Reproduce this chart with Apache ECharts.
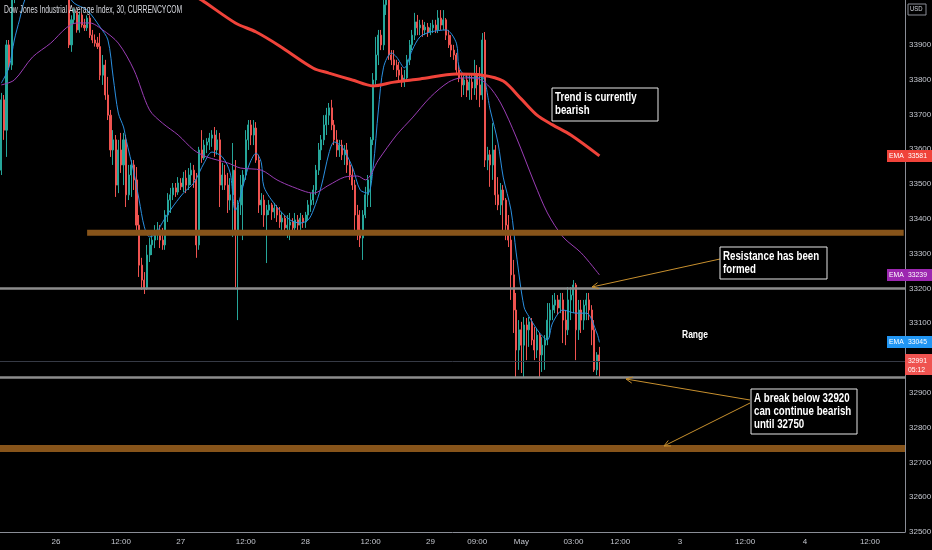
<!DOCTYPE html>
<html>
<head>
<meta charset="utf-8">
<script src="https://cdn.jsdelivr.net/npm/echarts@6/dist/echarts.min.js"></script>
<style>
  html, body { margin: 0; padding: 0; background: #000; }
  #chart { width: 932px; height: 550px; }
</style>
</head>
<body>
<div id="chart"></div>
<script>
// 30 min slots across the visible time range (incl. empty future space)
const SLOT_COUNT = 348;

const xLabelIdx = [21, 46, 69, 94, 117, 142, 165, 183, 200, 220, 238, 261, 286, 309, 334];
const xLabelText = ['26', '12:00', '27', '12:00', '28', '12:00', '29', '09:00', 'May', '03:00', '12:00', '3', '12:00', '4', '12:00'];

// [open, close, low, high]
const candles = [
  [33540,33742,33526,33762],[33742,33655,33627,33756],[33655,33900,33578,33914],[33900,33842,33828,33914],
  [33842,34040,33828,34060],[34040,34090,34020,34110],[34090,34120,34080,34135],[34120,34100,34090,34130],
  [34100,34140,34095,34150],[34140,34130,34120,34155],[34130,34160,34125,34170],[34160,34150,34140,34175],
  [34150,34170,34145,34185],[34170,34140,34130,34180],[34140,34150,34130,34160],[34150,34130,34120,34160],
  [34130,34145,34120,34155],[34145,34120,34110,34150],[34120,34130,34110,34140],[34130,34110,34100,34140],
  [34110,34120,34100,34130],[34120,34090,34080,34125],[34090,34100,34080,34110],[34100,34070,34060,34105],
  [34070,34080,34060,34090],[34080,34050,34040,34085],[34050,33900,33891,34060],[33900,33972,33880,33985],
  [33972,33992,33960,34005],[33992,33943,33935,33998],[33943,33986,33935,33995],[33986,33957,33950,33992],
  [33957,33949,33940,33975],[33949,33977,33940,33985],[33977,33928,33920,33985],[33928,33914,33905,33943],
  [33914,33905,33895,33930],[33905,33895,33888,33923],[33895,33813,33799,33934],[33813,33842,33785,33871],
  [33842,33756,33742,33857],[33756,33698,33684,33808],[33698,33598,33578,33713],[33598,33627,33555,33655],
  [33627,33497,33463,33641],[33497,33598,33474,33627],[33598,33555,33532,33647],[33555,33627,33497,33647],
  [33627,33469,33434,33641],[33469,33526,33454,33555],[33526,33555,33463,33569],[33555,33512,33483,33569],
  [33512,33382,33359,33549],[33382,33267,33233,33411],[33267,33224,33196,33288],[33224,33201,33184,33247],
  [33201,33296,33196,33325],[33296,33325,33276,33345],[33325,33339,33296,33359],[33339,33362,33316,33382],
  [33362,33368,33339,33391],[33368,33339,33316,33382],[33339,33325,33311,33374],[33325,33411,33311,33425],
  [33411,33454,33391,33474],[33454,33469,33417,33489],[33469,33489,33454,33503],[33489,33477,33463,33503],
  [33477,33503,33469,33520],[33503,33492,33483,33517],[33492,33517,33477,33535],[33517,33497,33474,33540],
  [33497,33526,33483,33546],[33526,33540,33497,33561],[33540,33512,33489,33555],[33512,33325,33288,33532],
  [33325,33598,33311,33607],[33598,33575,33561,33655],[33575,33612,33569,33627],[33612,33621,33589,33632],
  [33621,33632,33598,33647],[33632,33641,33607,33655],[33641,33598,33578,33664],[33598,33627,33584,33655],
  [33627,33497,33434,33647],[33497,33526,33483,33561],[33526,33497,33483,33555],[33497,33454,33417,33532],
  [33454,33469,33425,33517],[33469,33540,33348,33618],[33540,33368,33204,33569],[33368,33440,33109,33454],
  [33440,33497,33411,33526],[33497,33526,33339,33540],[33526,33627,33512,33655],[33627,33670,33598,33684],
  [33670,33641,33612,33684],[33641,33661,33612,33684],[33661,33569,33561,33678],[33569,33440,33417,33584],
  [33440,33454,33411,33474],[33454,33411,33377,33469],[33411,33425,33273,33440],[33425,33440,33411,33454],
  [33440,33420,33397,33446],[33420,33431,33402,33446],[33431,33411,33391,33440],[33411,33391,33374,33434],
  [33391,33402,33368,33420],[33402,33374,33359,33411],[33374,33382,33345,33411],[33382,33391,33339,33417],
  [33391,33374,33354,33402],[33374,33397,33362,33417],[33397,33382,33368,33411],[33382,33402,33368,33417],
  [33402,33391,33374,33411],[33391,33411,33374,33420],[33411,33440,33397,33454],[33440,33454,33420,33474],
  [33454,33483,33440,33497],[33483,33540,33469,33555],[33540,33598,33526,33618],[33598,33627,33569,33641],
  [33627,33670,33612,33698],[33670,33698,33641,33719],[33698,33719,33670,33733],[33719,33670,33655,33742],
  [33670,33627,33612,33684],[33627,33598,33578,33655],[33598,33612,33578,33627],[33612,33584,33569,33627],
  [33584,33598,33555,33612],[33598,33555,33532,33618],[33555,33526,33512,33569],[33526,33497,33483,33549],
  [33497,33411,33359,33512],[33411,33368,33339,33440],[33368,33345,33319,33425],[33345,33411,33282,33425],
  [33411,33469,33402,33492],[33469,33512,33434,33526],[33512,33627,33434,33635],[33627,33799,33612,33819],
  [33799,33871,33785,33923],[33871,33928,33842,33943],[33928,33900,33885,33943],[33900,34015,33885,34043],
  [34015,34029,33986,34058],[34029,33871,33857,34043],[33871,33857,33842,33885],[33857,33842,33828,33885],
  [33842,33828,33808,33857],[33828,33813,33799,33851],[33813,33793,33779,33836],[33793,33805,33779,33828],
  [33805,33857,33799,33871],[33857,33900,33842,33914],[33900,33928,33885,33943],[33928,33966,33914,33992],
  [33966,33949,33928,33986],[33949,33957,33928,33972],[33957,33943,33923,33972],[33943,33951,33928,33966],
  [33951,33937,33923,33963],[33937,33949,33928,33963],[33949,33957,33934,33972],[33957,33943,33934,33972],
  [33943,33977,33934,34000],[33977,33957,33943,34000],[33957,33972,33943,34000],[33972,33928,33914,33977],
  [33928,33900,33891,33943],[33900,33885,33865,33928],[33885,33871,33857,33900],[33871,33828,33813,33877],
  [33828,33805,33793,33842],[33805,33785,33750,33819],[33785,33799,33756,33813],[33799,33770,33750,33819],
  [33770,33793,33742,33813],[33793,33776,33742,33813],[33776,33813,33756,33857],[33813,33785,33742,33842],
  [33785,33756,33721,33836],[33756,33914,33742,33934],[33914,33569,33549,33937],[33569,33584,33540,33607],
  [33584,33555,33492,33598],[33555,33598,33512,33675],[33598,33469,33440,33612],[33469,33440,33425,33520],
  [33440,33483,33411,33503],[33483,33454,33359,33497],[33454,33382,33339,33460],[33382,33339,33319,33411],
  [33339,33239,33167,33359],[33239,33138,33072,33282],[33138,33023,32945,33187],[33023,33081,32966,33109],
  [33081,33037,32957,33104],[33037,33095,32945,33118],[33095,33081,32994,33115],[33081,33104,33032,33118],
  [33104,33052,33037,33115],[33052,33023,32994,33089],[33023,33066,33000,33086],[33066,33009,32945,33072],
  [33009,33037,32960,33060],[33037,33052,32966,33066],[33052,33109,33037,33158],[33109,33138,33060,33158],
  [33138,33152,33109,33181],[33152,33167,33129,33187],[33167,33144,33124,33181],[33144,33167,33129,33187],
  [33167,33109,33043,33187],[33109,33081,33037,33138],[33081,33167,33066,33204],[33167,33181,33109,33204],
  [33181,33210,33129,33224],[33210,33081,32994,33216],[33081,33138,33052,33167],[33138,33109,33072,33167],
  [33109,33152,33081,33167],[33152,33167,33109,33187],[33167,33138,33109,33187],[33138,33081,33037,33152],
  [33081,32966,32960,33109],[32966,33009,32951,33017],[33009,32991,32945,33032]
];

// moving averages: [slot, value]
const ema200 = [
  [74,34040],[77,34029],[90,33963],[98,33937],[107,33897],[120,33833],[126,33819],[135,33799],
  [143,33782],[151,33793],[161,33802],[175,33816],[185,33813],[193,33796],[200,33744],[206,33698],
  [212,33670],[219,33641],[230,33581]
];
const ema50 = [
  [0,33785],[5,33799],[12,33865],[19,33905],[25,33949],[29,33963],[34,33963],[39,33943],[45,33905],
  [51,33828],[57,33713],[62,33675],[68,33641],[74,33598],[79,33578],[87,33561],[92,33546],[100,33540],
  [106,33512],[112,33492],[120,33474],[126,33497],[132,33520],[137,33523],[140,33512],[145,33569],
  [152,33641],[158,33690],[165,33750],[172,33793],[177,33805],[182,33805],[187,33785],[192,33733],
  [198,33635],[205,33503],[210,33417],[216,33348],[223,33302],[230,33239]
];
const ema20 = [
  [0,33790],[3,33836],[5,33914],[7,33972],[9,34029],[12,34070],[18,34100],[24,34060],[28,34020],
  [33,34000],[38,33951],[41,33914],[43,33808],[45,33704],[47,33664],[48,33627],[51,33532],[53,33454],
  [55,33377],[57,33348],[60,33359],[61,33377],[65,33425],[70,33474],[74,33503],[78,33561],[81,33592],
  [85,33578],[88,33532],[90,33425],[95,33549],[98,33589],[100,33561],[101,33492],[106,33434],[111,33397],
  [115,33388],[118,33397],[120,33425],[123,33492],[126,33589],[128,33621],[131,33607],[135,33549],
  [138,33483],[141,33474],[143,33549],[145,33713],[147,33836],[150,33877],[152,33865],[155,33834],
  [158,33885],[161,33923],[165,33937],[171,33943],[175,33905],[176,33836],[179,33808],[183,33805],
  [185,33808],[188,33713],[191,33618],[193,33520],[196,33425],[198,33302],[201,33147],[203,33118],
  [207,33072],[210,33052],[212,33101],[216,33138],[221,33129],[225,33129],[229,33072],[230,33045]
];

// drawn levels
const upperZone = 33360;
const upperZoneStart = 33;
const lowerZone = 32740;
const resistanceLine = 33200;
const supportLine = 32945;
const countdown = '05:12';

const FONT = '"Liberation Sans", Arial, sans-serif';
const UP = '#26a69a';
const DOWN = '#ef5350';
const ZONE = '#87541a';
const ARROW = '#c8902e';

const labelByIdx = {};
xLabelIdx.forEach((idx, k) => { labelByIdx[idx] = xLabelText[k]; });
const slots = Array.from({ length: SLOT_COUNT }, (_, i) => String(i));

const chart = echarts.init(document.getElementById('chart'));

chart.setOption({
  backgroundColor: '#000',
  animation: false,
  grid: { left: 0, right: 27, top: 0, bottom: 18, containLabel: false, outerBoundsMode: 'none' },
  xAxis: {
    type: 'category',
    data: slots,
    boundaryGap: true,
    axisLine: { show: true, lineStyle: { color: '#8a8d96', width: 1 } },
    axisTick: { show: false },
    splitLine: { show: false },
    axisLabel: {
      color: '#c3c6ce',
      fontSize: 8,
      fontFamily: FONT,
      margin: 6,
      interval: (idx) => labelByIdx[idx] !== undefined,
      formatter: (v, idx) => labelByIdx[idx] || ''
    }
  },
  yAxis: {
    type: 'value',
    position: 'right',
    min: 32500,
    max: 34029,
    interval: 100,
    axisLine: { show: true, lineStyle: { color: '#8a8d96', width: 1 } },
    axisTick: { show: false },
    splitLine: { show: false },
    axisLabel: {
      color: '#c3c6ce',
      fontSize: 8,
      fontFamily: FONT,
      margin: 4,
      showMaxLabel: false,
      formatter: (v) => (v >= 34000 ? '' : String(v))
    }
  },
  series: [
    {
      type: 'candlestick',
      data: candles,
      barWidth: '60%',
      clip: true,
      itemStyle: {
        color: UP, color0: DOWN,
        borderColor: UP, borderColor0: DOWN,
        borderWidth: 1
      },
      z: 2
    },
    {
      type: 'line', data: ema20, showSymbol: false, smooth: 0.3, clip: true,
      lineStyle: { color: '#2a8fe0', width: 1 }, z: 3
    },
    {
      type: 'line', data: ema50, showSymbol: false, smooth: 0.3, clip: true,
      lineStyle: { color: '#9b3db5', width: 1 }, z: 3
    },
    {
      type: 'line', data: ema200, showSymbol: false, smooth: 0.3, clip: true,
      lineStyle: { color: '#f0433a', width: 3 }, z: 3
    },
    {
      type: 'line',
      data: [[upperZoneStart, upperZone], [SLOT_COUNT - 1, upperZone]],
      showSymbol: false,
      lineStyle: { color: ZONE, width: 6 },
      z: 4,
      markLine: {
        silent: true,
        symbol: 'none',
        label: { show: false },
        data: [
          { yAxis: lowerZone, lineStyle: { color: ZONE, width: 7, type: 'solid' } },
          { yAxis: resistanceLine, lineStyle: { color: '#8c8c8c', width: 2.5, type: 'solid' } },
          { yAxis: supportLine, lineStyle: { color: '#8c8c8c', width: 2.5, type: 'solid' } },
          { yAxis: candles[candles.length - 1][1], lineStyle: { color: '#363a45', width: 1, type: 'solid' } }
        ]
      }
    }
  ]
});

// annotations and price tags
const yPix = (v) => chart.convertToPixel({ yAxisIndex: 0 }, v);

function arrow(x1, y1, x2, y2) {
  const a = Math.atan2(y1 - y2, x1 - x2);
  const len = 7, spread = 0.45;
  return [
    { type: 'line', shape: { x1, y1, x2, y2 }, style: { stroke: ARROW, lineWidth: 1 }, z: 20 },
    {
      type: 'polyline',
      shape: { points: [
        [x2 + len * Math.cos(a + spread), y2 + len * Math.sin(a + spread)],
        [x2, y2],
        [x2 + len * Math.cos(a - spread), y2 + len * Math.sin(a - spread)]
      ] },
      style: { stroke: ARROW, lineWidth: 1, fill: null }, z: 20
    }
  ];
}

function noteBox(x, y, w, h, text) {
  return [
    { type: 'rect', shape: { x, y, width: w, height: h }, style: { fill: '#000', stroke: '#e6e6e6', lineWidth: 1 }, z: 21 },
    {
      type: 'text', x: x + 3, y: y + 3, scaleX: 0.72, z: 22,
      style: { text, fill: '#fff', font: 'bold 13.5px ' + FONT, lineHeight: 13 }
    }
  ];
}

function tag(label, value, color) {
  const y = Math.round(yPix(value)) - 6;
  return [
    { type: 'rect', shape: { x: 887, y, width: 18, height: 12 }, style: { fill: color }, z: 30 },
    { type: 'text', x: 889, y: y + 2, scaleX: 0.85, z: 31, style: { text: label, fill: '#fff', font: '8px ' + FONT } },
    { type: 'rect', shape: { x: 905, y, width: 27, height: 12 }, style: { fill: color }, z: 30 },
    { type: 'text', x: 908, y: y + 2, scaleX: 0.85, z: 31, style: { text: String(value), fill: '#fff', font: '8px ' + FONT } }
  ];
}

const last = candles[candles.length - 1][1];
const lastY = Math.round(yPix(last)) - 7;

const graphic = [
  { type: 'text', x: 4, y: 5, scaleX: 0.68, z: 20, style: { text: 'Dow Jones Industrial Average Index, 30, CURRENCYCOM', fill: '#d8dae0', font: '10px ' + FONT } },
  { type: 'rect', shape: { x: 908, y: 4, width: 18, height: 11 }, style: { fill: '#000', stroke: '#8a8d96', lineWidth: 1 }, z: 20 },
  { type: 'text', x: 910, y: 6, scaleX: 0.85, z: 21, style: { text: 'USD', fill: '#d1d4dc', font: '7px ' + FONT } },
  { type: 'text', x: 682, y: 330, scaleX: 0.85, z: 20, style: { text: 'Range', fill: '#fff', font: 'bold 10px ' + FONT } },
  ...arrow(720, 259, 592, 287),
  ...arrow(750, 400, 626, 379),
  ...arrow(750, 403, 664, 446),
  ...noteBox(552, 88, 106, 33, 'Trend is currently\nbearish'),
  ...noteBox(720, 247, 107, 32, 'Resistance has been\nformed'),
  ...noteBox(751, 389, 106, 45, 'A break below 32920\ncan continue bearish\nuntil 32750'),
  ...tag('EMA', ema200[ema200.length - 1][1], '#f0433a'),
  ...tag('EMA', ema50[ema50.length - 1][1], '#9c27b0'),
  ...tag('EMA', ema20[ema20.length - 1][1], '#2196f3'),
  { type: 'rect', shape: { x: 905, y: lastY, width: 27, height: 21 }, style: { fill: DOWN }, z: 30 },
  { type: 'text', x: 908, y: lastY + 2, scaleX: 0.85, z: 31, style: { text: String(last) + '\n' + countdown, fill: '#fff', font: '8px ' + FONT, lineHeight: 9 } }
];

chart.setOption({ graphic });
</script>
</body>
</html>
